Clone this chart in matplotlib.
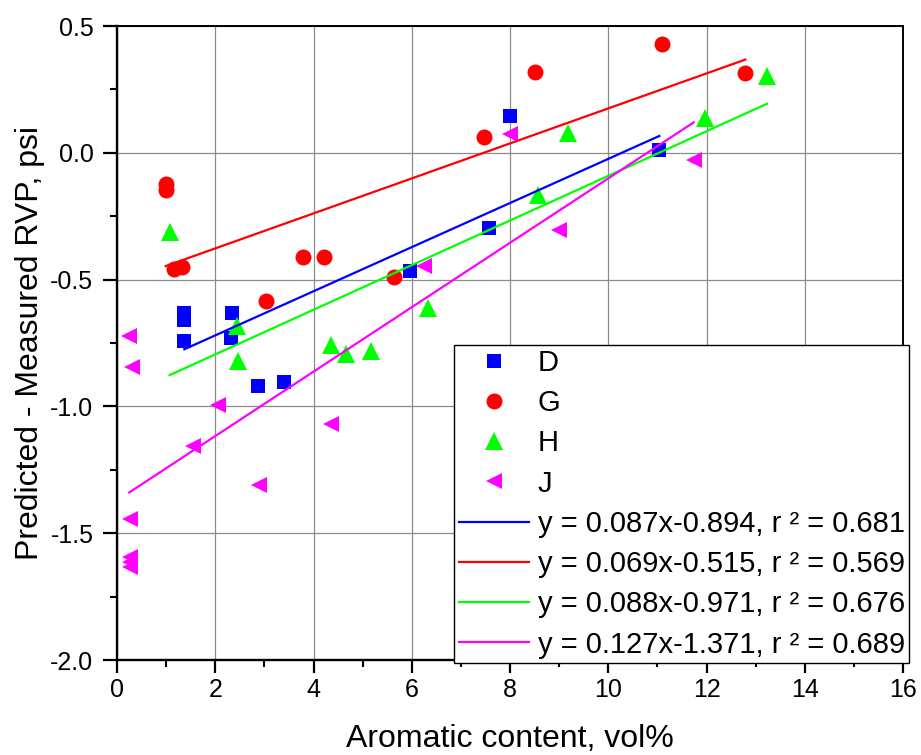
import matplotlib
matplotlib.use("Agg")
import matplotlib.pyplot as plt
import numpy as np
from matplotlib.ticker import MultipleLocator, FormatStrFormatter

plt.rcParams['font.family'] = ['Liberation Sans', 'DejaVu Sans']

# ---- data ----
d_x = [1.37, 1.37, 1.37, 2.34, 2.32, 2.87, 3.40, 5.97, 7.58, 8.00, 11.04]
d_y = [-0.63, -0.661, -0.743, -0.631, -0.73, -0.918, -0.905, -0.466, -0.297, 0.146, 0.012]

g_x = [0.99, 0.99, 1.16, 1.32, 3.03, 3.79, 4.22, 5.63, 7.48, 8.51, 11.09, 12.79]
g_y = [-0.124, -0.148, -0.457, -0.449, -0.585, -0.41, -0.41, -0.49, 0.063, 0.317, 0.429, 0.313]

h_x = [1.07, 2.45, 2.47, 4.35, 4.66, 5.17, 6.34, 8.56, 9.19, 11.96, 13.23]
h_y = [-0.312, -0.684, -0.822, -0.756, -0.795, -0.782, -0.611, -0.167, 0.08, 0.137, 0.304]

j_x = [0.25, 0.30, 0.26, 0.26, 0.26, 0.26, 1.54, 2.06, 2.90, 4.36, 6.24, 8.00, 8.99, 11.74]
j_y = [-0.723, -0.845, -1.443, -1.592, -1.612, -1.632, -1.157, -0.993, -1.311, -1.068,
       -0.447, 0.073, -0.305, -0.028]

series_names = ["D", "G", "H", "J"]
fit_slopes = [0.087, 0.069, 0.088, 0.127]
fit_intercepts = [-0.894, -0.515, -0.971, -1.371]
fit_r2 = [0.681, 0.569, 0.676, 0.689]

x_ticks = [0, 2, 4, 6, 8, 10, 12, 14, 16]
y_ticks = [-2.0, -1.5, -1.0, -0.5, 0.0, 0.5]

colors = ['#0000ff', '#ff0000', '#00ff00', '#ff00ff']
markers = ['s', 'o', '^', '<']
msizes = [10, 11.5, 12.5, 12]

W, H = 921, 755
fig = plt.figure(figsize=(W / 100, H / 100), dpi=100)
ax = fig.add_axes([117 / W, 1 - 660 / H, (903 - 117) / W, (660 - 26) / H])

xs = [d_x, g_x, h_x, j_x]
ys = [d_y, g_y, h_y, j_y]

handles = []
labels = []
for i in range(4):
    h, = ax.plot(xs[i], ys[i], linestyle='none', marker=markers[i], color=colors[i],
                 markersize=msizes[i], markeredgewidth=0, zorder=3)
    handles.append(h)
    labels.append(series_names[i])

for i in range(4):
    xx = np.array([min(xs[i]), max(xs[i])])
    yy = fit_slopes[i] * xx + fit_intercepts[i]
    ln, = ax.plot(xx, yy, color=colors[i], linewidth=1.6, zorder=4)
    handles.append(ln)
    labels.append("y = %.3fx%.3f, r \u00b2 = %.3f" % (fit_slopes[i], fit_intercepts[i], fit_r2[i]))

ax.set_xlim(0, 16)
ax.set_ylim(-2.0, 0.5)
ax.set_xticks(x_ticks)
ax.set_yticks(y_ticks)
ax.xaxis.set_minor_locator(MultipleLocator(1))
ax.yaxis.set_minor_locator(MultipleLocator(0.25))
ax.yaxis.set_major_formatter(FormatStrFormatter('%.1f'))

ax.grid(True, which='major', color='#8c8c8c', linewidth=0.9, zorder=0)
ax.set_axisbelow(True)

for side in ['left', 'bottom']:
    ax.spines[side].set_linewidth(1.7)
for side in ['top', 'right']:
    ax.spines[side].set_linewidth(1.4)

ax.tick_params(axis='both', which='major', direction='out', width=1.6, labelsize=18,
               top=False, right=False)
ax.tick_params(axis='x', which='major', length=9, pad=4)
ax.tick_params(axis='y', which='major', length=10, pad=7)
ax.tick_params(axis='both', which='minor', direction='out', width=1.5, length=5,
               top=False, right=False)

ax.set_xlabel("Aromatic content, vol%", fontsize=23, labelpad=16)
ax.set_ylabel("Predicted - Measured RVP, psi", fontsize=23, labelpad=4)

leg = ax.legend(handles, labels, loc='lower right',
                bbox_to_anchor=(909 / W, 1 - 663 / H), bbox_transform=fig.transFigure,
                fontsize=21, frameon=True, fancybox=False, framealpha=1,
                edgecolor='black', borderpad=0.15, borderaxespad=0,
                handlelength=2.4, handletextpad=0.3, labelspacing=0.42,
                numpoints=1)
leg.get_frame().set_linewidth(1.0)
leg.set_zorder(10)

fig.savefig("out.png", dpi=100)
